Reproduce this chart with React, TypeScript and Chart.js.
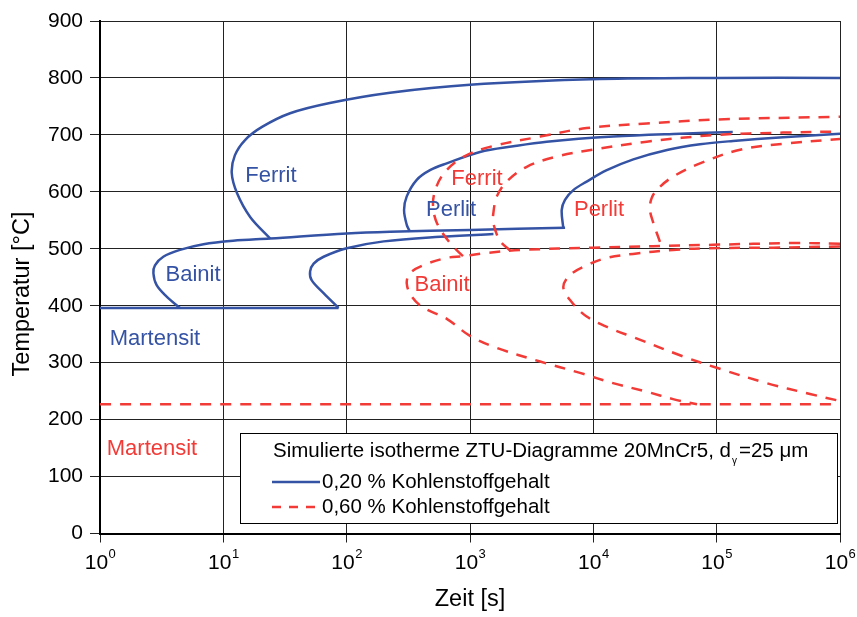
import React, { useEffect, useRef } from 'react';
import { Chart, registerables } from 'chart.js';

Chart.register(...registerables);

type Pt = [number, number];

const FONT = '"Liberation Sans", Arial, sans-serif';
const BLUE = '#3553a4';
const RED = '#f23a36';

// Achsen
const timeTicks = [1, 10, 100, 1000, 10000, 100000, 1000000];
const tempMin = 0;
const tempMax = 900;
const tempStep = 100;

// 0,20 % Kohlenstoff – Zeit [s], Temperatur [°C]
const martensit020: Pt[] = [[1, 396], [86, 396]];
const bainitStart020: Pt[] = [
  [4.45, 396], [3.47, 416], [2.88, 436], [2.71, 457], [2.79, 471], [3.26, 486], [4.45, 498],
  [6.9, 508], [12, 514], [24, 518], [100, 527], [225, 530], [1000, 533], [5900, 537],
];
const bainitEnde020: Pt[] = [
  [86, 396], [65, 422], [52, 445], [50.5, 460], [54, 474], [65, 486], [100, 501], [200, 513],
  [571, 521], [1550, 526],
];
const ferritStart020: Pt[] = [
  [24, 518], [16.5, 556], [12.9, 598], [11.7, 633], [12.4, 664], [15, 691], [20.6, 714],
  [34.8, 738], [73, 756], [225, 774], [1000, 788], [11300, 798], [100000, 800], [1000000, 800],
];
const perlitStart020: Pt[] = [
  [326, 530], [307, 542], [292, 568], [307, 592], [370, 621], [474, 638], [648, 650],
  [1205, 670], [2245, 680], [4190, 688], [14500, 697], [50400, 702], [135000, 705],
];
const perlitEnde020: Pt[] = [
  [5710, 536], [5540, 568], [5890, 586], [6880, 603], [8830, 618], [12850, 638], [21100, 657],
  [39600, 673.5], [73300, 683.5], [135600, 689.3], [345000, 696], [1000000, 702],
];

// 0,60 % Kohlenstoff
const martensit060: Pt[] = [[1, 227], [1000000, 227]];
const ferritStart060: Pt[] = [
  [877, 487], [689, 510], [540, 545], [501, 577], [530, 607], [627, 635], [877, 661],
  [1450, 679], [3700, 697], [8830, 712], [27100, 720], [100000, 727], [1000000, 732],
];
const perlitStart060: Pt[] = [
  [2110, 497], [1750, 514], [1545, 545], [1545, 562], [1650, 592], [1985, 618], [2885, 644],
  [5050, 662], [9930, 674], [27100, 688], [100000, 700], [345000, 704], [1000000, 706],
];
const perlitEnde060: Pt[] = [
  [34700, 512], [30700, 545], [28800, 568], [29700, 589], [33600, 606], [44600, 627],
  [73300, 650], [155000, 674], [370000, 685], [883000, 692], [1000000, 693],
];
const bainitStart060: Pt[] = [
  [1000000, 509], [416000, 510], [93400, 507], [9930, 502], [2690, 498], [1275, 492],
  [877, 487], [648, 484], [416, 471], [326, 457], [307, 439], [337, 416], [416, 397],
  [648, 377], [1000, 347], [1650, 326], [3700, 302], [7800, 282], [14450, 264], [27100, 249],
  [44300, 236], [69300, 227],
];
const bainitEnde060: Pt[] = [
  [1000000, 504], [286000, 502], [83000, 501], [44300, 498], [21000, 491], [12850, 484],
  [8830, 471], [6470, 454], [5710, 433], [6470, 410], [8830, 381], [14500, 358], [21000, 345],
  [53300, 311], [100000, 291], [254700, 264], [571000, 245], [940000, 234],
];

// Gefügebezeichnungen (Zeit, Temperatur)
const gefuege020 = [
  { text: 'Ferrit', t: 24.3, T: 628 },
  { text: 'Bainit', t: 5.68, T: 454 },
  { text: 'Perlit', t: 702, T: 568 },
  { text: 'Martensit', t: 2.79, T: 341 },
];
const gefuege060 = [
  { text: 'Ferrit', t: 1140, T: 623 },
  { text: 'Perlit', t: 11120, T: 568 },
  { text: 'Bainit', t: 593, T: 436 },
  { text: 'Martensit', t: 2.64, T: 148 },
];

const legendTitle = 'Simulierte isotherme ZTU-Diagramme 20MnCr5, d';
const legendTitleSub = 'γ';
const legendTitleEnd = '=25 μm';
const legendLabel020 = '0,20 % Kohlenstoffgehalt';
const legendLabel060 = '0,60 % Kohlenstoffgehalt';

const toXY = (pts: Pt[]) => pts.map(([x, y]) => ({ x, y }));

const curve020 = (data: Pt[]) => ({
  data: toXY(data),
  borderColor: BLUE,
  borderWidth: 2.5,
  showLine: true,
  pointRadius: 0,
  tension: 0.35,
  fill: false,
});
const curve060 = (data: Pt[]) => ({
  data: toXY(data),
  borderColor: RED,
  borderWidth: 2.5,
  borderDash: [11, 9],
  showLine: true,
  pointRadius: 0,
  tension: 0.35,
  fill: false,
});

const overlay = {
  id: 'ztuOverlay',
  afterDraw(chart: any) {
    const { ctx } = chart;
    const xs = chart.scales.x;
    const ys = chart.scales.y;
    ctx.save();

    // Zeitachse: Zehnerpotenzen
    ctx.fillStyle = '#000';
    ctx.textAlign = 'left';
    ctx.textBaseline = 'middle';
    timeTicks.forEach((v) => {
      const px = xs.getPixelForValue(v);
      const exp = String(Math.round(Math.log10(v)));
      ctx.font = `21px ${FONT}`;
      const wBase = ctx.measureText('10').width;
      ctx.font = `13px ${FONT}`;
      const wExp = ctx.measureText(exp).width;
      const x0 = px - (wBase + wExp) / 2;
      ctx.font = `21px ${FONT}`;
      ctx.fillText('10', x0, ys.bottom + 30);
      ctx.font = `13px ${FONT}`;
      ctx.fillText(exp, x0 + wBase + 0.5, ys.bottom + 21);
    });

    // Temperaturachse: Titel
    ctx.save();
    ctx.translate(23, 294);
    ctx.rotate(-Math.PI / 2);
    ctx.textAlign = 'center';
    ctx.font = `23.5px ${FONT}`;
    ctx.fillText('Temperatur [°C]', 0, 0);
    ctx.restore();

    // Gefügebezeichnungen
    ctx.textAlign = 'center';
    ctx.font = `22px ${FONT}`;
    const area = chart.chartArea;
    ctx.save();
    ctx.beginPath();
    ctx.rect(area.left, area.top, area.right - area.left, area.bottom - area.top);
    ctx.clip();
    gefuege020.forEach((g) => {
      ctx.fillStyle = BLUE;
      ctx.fillText(g.text, xs.getPixelForValue(g.t), ys.getPixelForValue(g.T));
    });
    gefuege060.forEach((g) => {
      ctx.fillStyle = RED;
      ctx.fillText(g.text, xs.getPixelForValue(g.t), ys.getPixelForValue(g.T));
    });
    ctx.restore();

    // Legende
    const bx = 240, by = 433, bw = 597, bh = 90;
    ctx.fillStyle = '#fff';
    ctx.fillRect(bx, by, bw, bh);
    ctx.strokeStyle = '#000';
    ctx.lineWidth = 1;
    ctx.strokeRect(bx + 0.5, by + 0.5, bw, bh);

    ctx.fillStyle = '#000';
    ctx.textAlign = 'left';
    ctx.font = `20.5px ${FONT}`;
    const tx = 273, ty = 451;
    ctx.fillText(legendTitle, tx, ty);
    const w1 = ctx.measureText(legendTitle).width;
    ctx.font = `10px ${FONT}`;
    ctx.fillText(legendTitleSub, tx + w1 + 1, ty + 10);
    const ws = ctx.measureText(legendTitleSub).width;
    ctx.font = `20.5px ${FONT}`;
    ctx.fillText(legendTitleEnd, tx + w1 + ws + 3, ty);

    ctx.lineWidth = 2.5;
    ctx.strokeStyle = BLUE;
    ctx.setLineDash([]);
    ctx.beginPath();
    ctx.moveTo(272, 482);
    ctx.lineTo(320, 482);
    ctx.stroke();
    ctx.fillText(legendLabel020, 322, 482);

    ctx.strokeStyle = RED;
    ctx.setLineDash([9, 8]);
    ctx.beginPath();
    ctx.moveTo(272, 507);
    ctx.lineTo(320, 507);
    ctx.stroke();
    ctx.setLineDash([]);
    ctx.fillText(legendLabel060, 322, 507);

    ctx.restore();
  },
};

export default function App() {
  const ref = useRef<HTMLCanvasElement>(null);

  useEffect(() => {
    document.body.style.margin = '0';
    Chart.defaults.font.family = FONT;
    const chart = new Chart(ref.current as HTMLCanvasElement, {
      type: 'scatter',
      data: {
        datasets: [
          curve060(martensit060),
          curve060(ferritStart060),
          curve060(perlitStart060),
          curve060(perlitEnde060),
          curve060(bainitStart060),
          curve060(bainitEnde060),
          curve020(martensit020),
          curve020(bainitStart020),
          curve020(bainitEnde020),
          curve020(ferritStart020),
          curve020(perlitStart020),
          curve020(perlitEnde020),
        ] as any,
      },
      options: {
        responsive: false,
        animation: false,
        devicePixelRatio: 1,
        layout: { padding: { top: 21, right: 17, left: 0, bottom: 0 } },
        plugins: {
          legend: { display: false },
          tooltip: { enabled: false },
        },
        scales: {
          x: {
            type: 'logarithmic',
            min: timeTicks[0],
            max: timeTicks[timeTicks.length - 1],
            afterBuildTicks: (s: any) => {
              s.ticks = timeTicks.map((v) => ({ value: v, major: true }));
            },
            afterFit: (s: any) => {
              s.height = 83.5;
            },
            ticks: { display: false },
            grid: { color: '#222', lineWidth: 1, tickLength: 9, tickColor: '#222' },
            border: { color: '#000', width: 2 },
            title: {
              display: true,
              text: 'Zeit [s]',
              color: '#000',
              font: { size: 23.5 },
              padding: { top: 0, bottom: 3 },
            },
          },
          y: {
            type: 'linear',
            min: tempMin,
            max: tempMax,
            afterFit: (s: any) => {
              s.width = 100;
            },
            ticks: { stepSize: tempStep, color: '#000', font: { size: 21 }, padding: 7 },
            grid: { color: '#222', lineWidth: 1, tickLength: 10, tickColor: '#222' },
            border: { color: '#000', width: 2 },
          },
        },
      } as any,
      plugins: [overlay],
    });
    return () => chart.destroy();
  }, []);

  return (
    <div style={{ width: 857, height: 617 }}>
      <canvas ref={ref} width={857} height={617} style={{ display: 'block' }} />
    </div>
  );
}
